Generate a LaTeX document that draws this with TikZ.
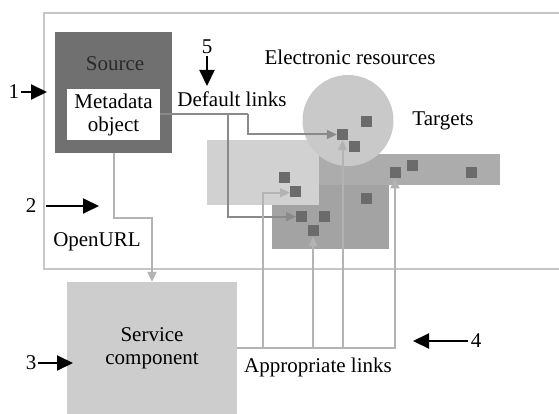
\documentclass[tikz,border=0pt]{standalone}
\usepackage{fontspec}
\setmainfont{Liberation Serif}
\usetikzlibrary{arrows.meta,calc}
\definecolor{srcgray}{HTML}{707070}
\definecolor{srctext}{HTML}{2A2A2A}
\definecolor{sqgray}{HTML}{6B6B6B}
\definecolor{circgray}{HTML}{C9C9C9}
\definecolor{lightgray2}{HTML}{D1D1D1}
\definecolor{bargray}{HTML}{ACACAC}
\definecolor{darkgray2}{HTML}{A3A3A3}
\definecolor{svcgray}{HTML}{CDCDCD}
\definecolor{deflinkgray}{HTML}{8A8A8A}
\definecolor{applinkgray}{HTML}{B3B3B3}
\definecolor{framegray}{HTML}{C6C6C6}
\tikzset{
  txt/.style={font=\fontsize{21}{23}\selectfont, text=black, inner sep=0pt, align=center},
  sq/.style={fill=sqgray, minimum size=11pt, inner sep=0pt},
  srcbox/.style={fill=srcgray, minimum width=117pt, minimum height=121pt, inner sep=0pt},
  metabox/.style={txt, fill=white, minimum width=93pt, minimum height=51pt},
  svcbox/.style={txt, fill=svcgray, minimum width=170pt, minimum height=132pt},
  numarrow/.style={line width=2pt, -{Triangle[length=16pt,width=15pt]}},
  deflink/.style={draw=deflinkgray, line width=2pt, -{Triangle[length=10pt,width=9pt]}},
  deflinkplain/.style={draw=deflinkgray, line width=2pt},
  applink/.style={draw=applinkgray, line width=2pt, -{Triangle[length=10pt,width=9pt]}},
  frameline/.style={draw=framegray, line width=1.5pt}
}
\begin{document}
\begin{tikzpicture}[x=1pt,y=-1pt]
\useasboundingbox (0,0) rectangle (559,414);

% open frame around the repository area
\draw[frameline] (559,13) -- (44,13) -- (44,269) -- (559,269);

% target collections
\fill[darkgray2] (272,170) rectangle (389,249);
\fill[bargray] (300,154) rectangle (500,185);
\fill[lightgray2] (207,140) rectangle (319,205);
\fill[circgray] (348,120.5) circle (45.5);

% individual targets
\node[sq] (c1) at (342.5,134.5) {};
\node[sq] (c2) at (354.5,147) {};
\node[sq] (c3) at (366.5,121.5) {};
\node[sq] (l1) at (284,178) {};
\node[sq] (l2) at (295.7,191.7) {};
\node[sq] (d1) at (301.7,216.7) {};
\node[sq] (d2) at (324,216.7) {};
\node[sq] (d3) at (313,230.7) {};
\node[sq] (d4) at (366,198) {};
\node[sq] (b1) at (395,172.7) {};
\node[sq] (b2) at (412.7,166) {};
\node[sq] (b3) at (471.7,172.7) {};

% source with its metadata object
\node[srcbox] (src) at (113.5,92.5) {};
\node[txt, text=srctext] (srclabel) at (115,64) {Source};
\node[metabox] (meta) at (113.5,114.5) {Metadata\\object};

% service component
\node[svcbox] (svc) at (152,348) {Service\\component};

% labels
\node[txt] (deftext) at (232,99) {Default links};
\node[txt] (eres) at (350,57) {Electronic resources};
\node[txt] (targets) at (443,121) {Targets};
\node[txt] (openurl) at (97,242) {OpenURL};
\node[txt] (applinks) at (318,367) {Appropriate links};

% default links
\coordinate (dA) at (248,0);
\coordinate (dB) at (228,0);
\draw[deflinkplain] (meta.east) -- (meta.east -| dA);
\draw[deflink] (meta.east -| dA) |- (c1.west);
\draw[deflink] (meta.east -| dB) |- (d1.west);

% OpenURL request
\draw[applink] (src.south) -- ++(0,65) -| (svc.north);

% appropriate links
\coordinate (a1) at (263,0);
\draw[applink] (svc.east) -| (b1.south);
\draw[applink] (c1.south |- svc.east) -- (c1.south);
\draw[applink] (d3.south |- svc.east) -- (d3.south);
\draw[applink] (a1 |- svc.east) |- ([yshift=-1pt]l2.west);

% numbered callouts
\node[txt] (n1) at (14,92) {1};
\coordinate (t1) at (47,92);
\draw[numarrow] (n1.east) ++(2,0) -- (t1);

\node[txt] (n2) at (31,206) {2};
\coordinate (t2) at (99,206);
\draw[numarrow] ($(n2.east)+(10,0)$) -- (t2);

\node[txt] (n3) at (31,363) {3};
\coordinate (t3) at (73,363);
\draw[numarrow] ($(n3.east)+(2,0)$) -- (t3);

\node[txt] (n4) at (476,341) {4};
\coordinate (t4) at (413,341);
\draw[numarrow] ($(n4.west)+(-3,0)$) -- (t4);

\node[txt] (n5) at (207,47) {5};
\coordinate (t5) at (207,86);
\draw[numarrow] ($(n5.south)+(0,2)$) -- (t5);
\end{tikzpicture}
\end{document}
